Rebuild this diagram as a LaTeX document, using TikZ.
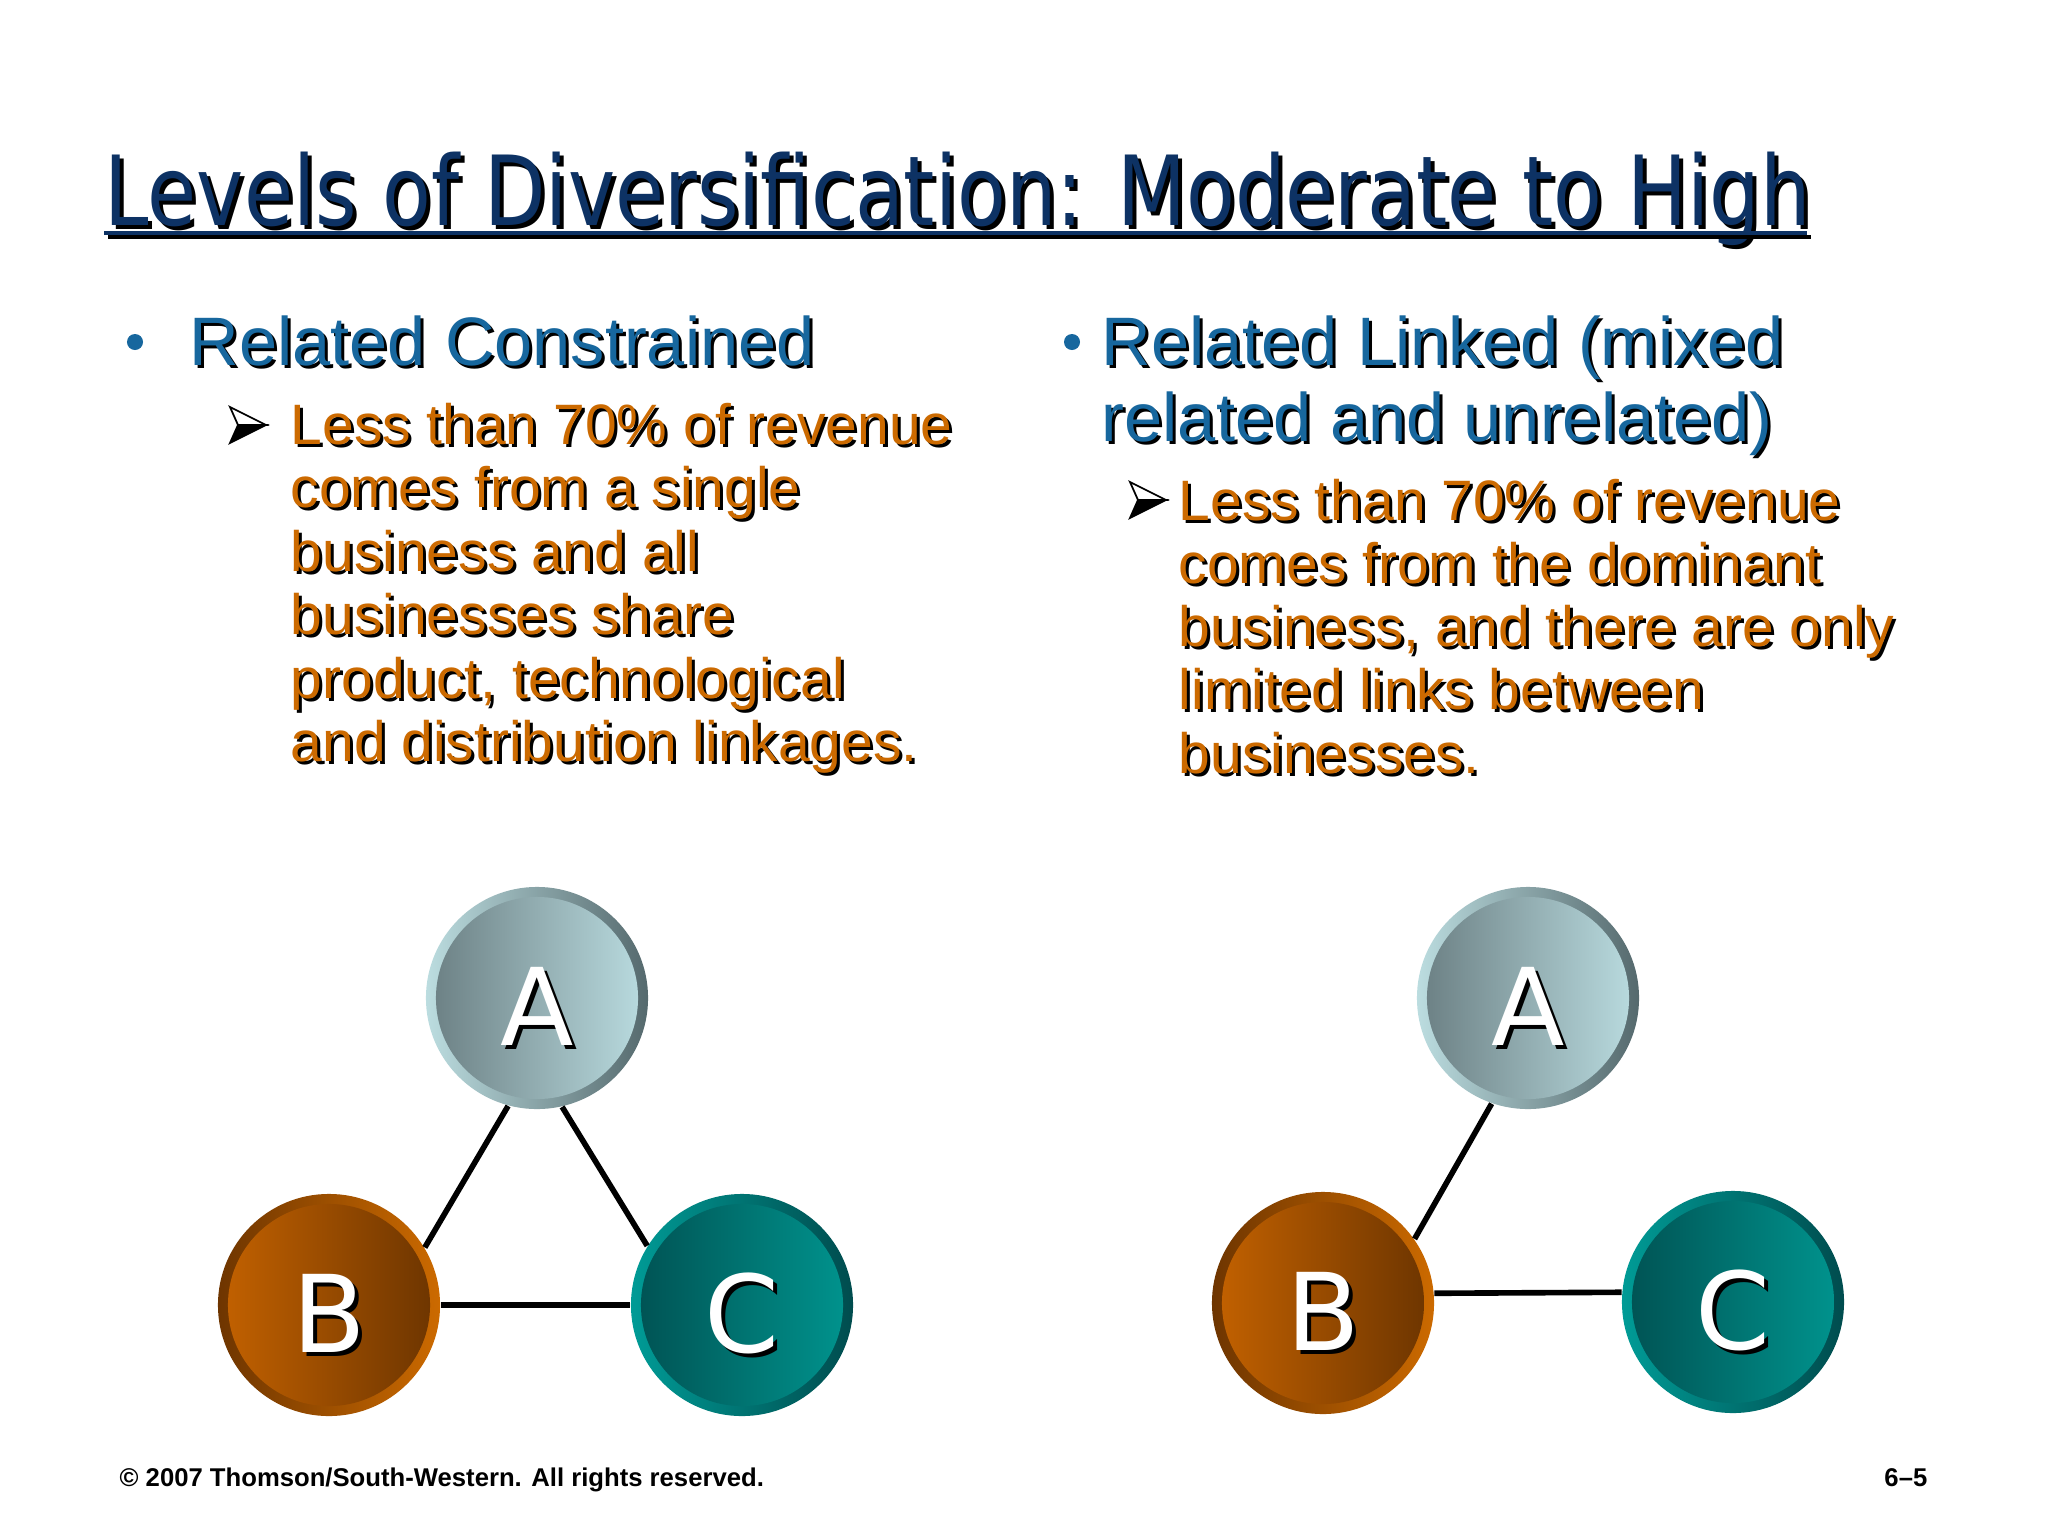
\documentclass[tikz,border=0pt]{standalone}
\usepackage{fontspec}
\setmainfont{Liberation Sans}
\newfontfamily\titlefont[FakeStretch=0.825]{DejaVu Sans}
\newfontfamily\letterfont{DejaVu Sans}
\definecolor{titleblue}{HTML}{0D3264}
\definecolor{headblue}{HTML}{17679E}
\definecolor{orng}{HTML}{CC6A00}
\definecolor{aOutL}{HTML}{BCDDE0}\definecolor{aOutR}{HTML}{55696D}
\definecolor{aInL}{HTML}{6A7E82}\definecolor{aInR}{HTML}{BBDDE1}
\definecolor{bOutL}{HTML}{6E3500}\definecolor{bOutR}{HTML}{CC6A00}
\definecolor{bInL}{HTML}{C46200}\definecolor{bInR}{HTML}{6B3400}
\definecolor{cOutL}{HTML}{009B96}\definecolor{cOutR}{HTML}{004C4E}
\definecolor{cInL}{HTML}{005152}\definecolor{cInR}{HTML}{00958F}
\tikzset{
 txt/.style={anchor=base west, inner sep=0pt},
 headtxt/.style={txt, font=\fontsize{19.5}{22}\selectfont},
 bodytxt/.style={txt, font=\fontsize{16.2}{18}\selectfont},
 titletxt/.style={txt, font=\titlefont\fontsize{27.5}{30}\selectfont},
 ball/.style={circle, minimum size=2.22cm, inner sep=0pt},
 ballA/.style={ball, left color=aOutL, right color=aOutR,
   path picture={\shade[left color=aInL, right color=aInR] (path picture bounding box.center) circle[radius=1.01cm];}},
 ballB/.style={ball, left color=bOutL, right color=bOutR,
   path picture={\shade[left color=bInL, right color=bInR] (path picture bounding box.center) circle[radius=1.01cm];}},
 ballC/.style={ball, left color=cOutL, right color=cOutR,
   path picture={\shade[left color=cInL, right color=cInR] (path picture bounding box.center) circle[radius=1.01cm];}},
 link/.style={line width=1.6pt, black},
 letter/.style={inner sep=0pt, font=\letterfont\fontsize{30.5}{32}\selectfont, text=white},
 lettershadow/.style={letter, text=black},
}
\newcommand\shtxt[7]{%
 \node[#2, text=black] (#1s) at ({#4+#7},{#5+#7}) {#6};
 \node[#2, text=#3] (#1) at ({#4},{#5}) {#6};}
\newcommand\arrowbul[2]{%
 \filldraw[fill=white, draw=black, line width=0.5pt, line join=miter] ({#1-18},{#2-18}) -- ({#1+18},{#2}) -- ({#1-10},{#2}) -- cycle;
 \filldraw[fill=black, draw=black, line width=0.5pt] ({#1-10},{#2}) -- ({#1+18},{#2}) -- ({#1-18},{#2+18}) -- cycle;}
\begin{document}
\begin{tikzpicture}[x=0.01cm,y=-0.01cm]
\useasboundingbox (0,0) rectangle (2048,1536);
\fill[white] (0,0) rectangle (2048,1536);
% title
\shtxt{title}{titletxt}{titleblue}{104}{225}{Levels of Diversification: Moderate to High}{4}
\draw[black, line width=1.2pt] (108,237) -- (1811,237);
\draw[titleblue, line width=1.2pt] (104,233) -- (1807,233);
% left column
\fill[headblue] (135,342) circle[radius=0.08cm];
\shtxt{hl}{headtxt}{headblue}{189}{365}{Related Constrained}{3}
\arrowbul{248}{425}
\foreach \t [count=\i] in {Less than 70\% of revenue, comes from a single, business and all, businesses share, {product, technological}, and distribution linkages.}
  {\shtxt{l\i}{bodytxt}{orng}{290}{444+(\i-1)*63.5}{\t}{3}}
% right column
\fill[headblue] (1072,342) circle[radius=0.08cm];
\shtxt{hr1}{headtxt}{headblue}{1101}{365}{Related Linked (mixed}{3}
\shtxt{hr2}{headtxt}{headblue}{1101}{441}{related and unrelated)}{3}
\arrowbul{1148}{500}
\foreach \t [count=\i] in {Less than 70\% of revenue, comes from the dominant, {business, and there are only}, limited links between, businesses.}
  {\shtxt{r\i}{bodytxt}{orng}{1178}{520+(\i-1)*63.3}{\t}{3}}
% left diagram
\node[ballA] (A1) at (537,998) {};
\node[ballB] (B1) at (329,1305) {};
\node[ballC] (C1) at (742,1305) {};
\draw[link] (A1.255) -- (B1.31);
\draw[link] (A1.283) -- (C1.148);
\draw[link] (B1.east) -- (C1.west);
% right diagram
\node[ballA] (A2) at (1528,998) {};
\node[ballB] (B2) at (1323,1303) {};
\node[ballC] (C2) at (1733,1302) {};
\draw[link] (A2.251) -- (B2.35);
\draw[link] (B2.5) -- (C2.175);
% letters
\foreach \n/\l in {A1/A, B1/B, C1/C, A2/A, B2/B, C2/C}{
  \node[lettershadow] (\n s) at ([shift={(4,12)}]\n) {\l};
  \node[letter] (\n t) at ([shift={(0,8)}]\n) {\l};
}
% footer
\node[txt, font=\bfseries\fontsize{7.3}{9}\selectfont] (foot) at (119,1486) {© 2007 Thomson/South-Western. All rights reserved.};
\node[anchor=base east, inner sep=0pt, font=\bfseries\fontsize{7.3}{9}\selectfont] (pg) at (1928,1486) {6–5};
\end{tikzpicture}
\end{document}
